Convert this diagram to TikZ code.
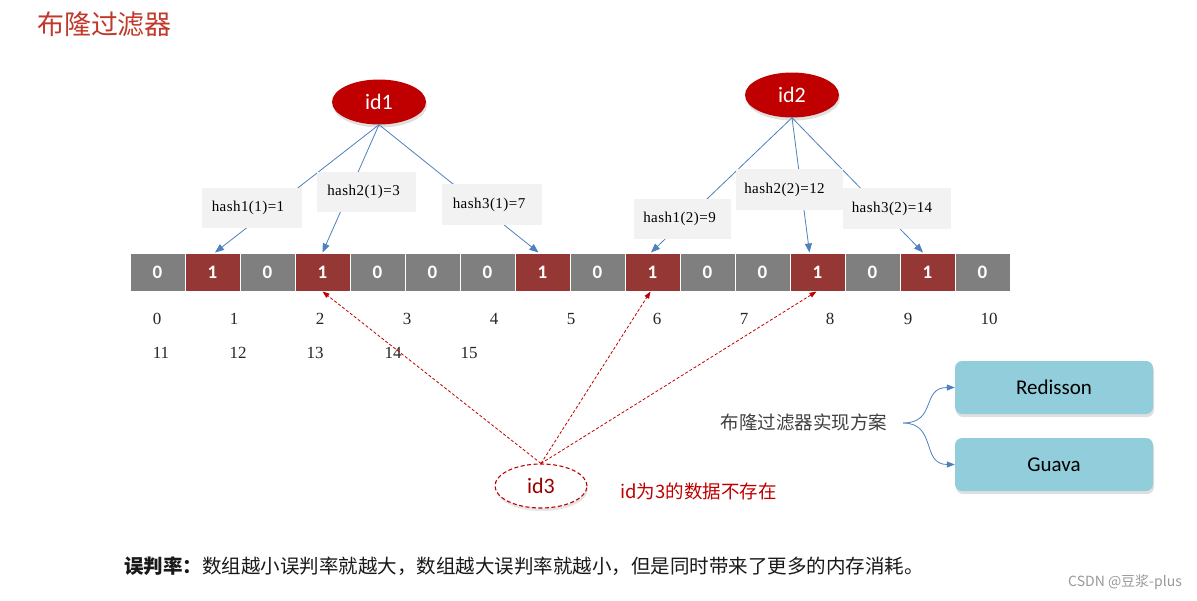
\documentclass[tikz,border=0pt]{standalone}
\usepackage{fontspec}
\setmainfont{Liberation Serif}
\newfontfamily\cjk{Noto Sans CJK SC}
\newfontfamily\carl{Carlito}
\newfontfamily\hashfont[LetterSpace=3]{Liberation Serif}
\usetikzlibrary{shapes.geometric,arrows.meta,shadows}
\newcommand\myfs[1]{\fontsize{#1}{#1}\selectfont}
\definecolor{cellgray}{HTML}{7F7F7F}
\definecolor{cellred}{HTML}{953735}
\definecolor{idred}{HTML}{C00000}
\definecolor{hashbg}{HTML}{F2F2F2}
\definecolor{lineblue}{HTML}{4F81BD}
\definecolor{boxblue}{HTML}{92CDDC}
\definecolor{titlered}{HTML}{C0392B}
\definecolor{plantext}{HTML}{404040}
\tikzset{
  cell/.style={draw=white, line width=1pt, minimum width=55pt, minimum height=38pt, inner sep=0pt, text=white, font=\carl\bfseries\myfs{19}},
  idnode/.style={ellipse, fill=idred, text=white, minimum width=94pt, minimum height=45pt, inner sep=0pt, font=\carl\myfs{22},
     drop shadow={shadow xshift=1pt, shadow yshift=-3pt, opacity=0.25}},
  hashbox/.style={fill=hashbg, inner sep=0pt, font=\hashfont\myfs{15}},
  conn/.style={draw=lineblue, line width=0.8pt, -{Triangle[length=9pt,width=7pt]}},
  miss/.style={draw=idred, line width=0.8pt, dash pattern=on 3pt off 2pt, -{Triangle[length=7pt,width=5pt]}},
  idx/.style={font=\myfs{17}, text=black!85},
  implbox/.style={rounded corners=7pt, fill=boxblue, minimum width=198pt, minimum height=53pt, font=\carl\myfs{21},
     drop shadow={shadow xshift=1pt, shadow yshift=-3pt, opacity=0.25}},
  curvearrow/.style={draw=lineblue, line width=0.8pt, -{Triangle[length=8pt,width=6pt]}}
}
\begin{document}
\begin{tikzpicture}[x=1pt,y=-1pt]
\useasboundingbox[fill=white] (0,0) rectangle (1197,600);

% title
\node[font=\cjk\myfs{27}, text=titlered] (title) at (104.5,24) {布隆过滤器};

% bit array
\foreach \v [count=\i from 0] in {0,1,0,1,0,0,0,1,0,1,0,0,1,0,1,0} {
  \ifnum\v=1 \def\cf{cellred}\else\def\cf{cellgray}\fi
  \node[cell, fill=\cf] (c\i) at ({157.5+55*\i},272) {\v};
}

% index labels
\node[idx] (i0) at (157,319) {0};
\node[idx] (i1) at (234,319) {1};
\node[idx] (i2) at (320,319) {2};
\node[idx] (i3) at (407,319) {3};
\node[idx] (i4) at (494,319) {4};
\node[idx] (i5) at (571,319) {5};
\node[idx] (i6) at (657,319) {6};
\node[idx] (i7) at (744,319) {7};
\node[idx] (i8) at (830,319) {8};
\node[idx] (i9) at (908,319) {9};
\node[idx] (i10) at (989,319) {10};
\node[idx] (i11) at (161,353) {11};
\node[idx] (i12) at (238,353) {12};
\node[idx] (i13) at (315,353) {13};
\node[idx] (i14) at (393,353) {14};
\node[idx] (i15) at (469,353) {15};

% id nodes
\node[idnode] (id1) at (379,102) {id1};
\node[idnode] (id2) at (792,95) {id2};

% connectors (behind hash boxes)
\draw[conn] (id1.south) -- ([xshift=2.5pt]c1.north);
\draw[conn] (id1.south) -- (c3.north);
\draw[conn] (id1.south) -- ([xshift=-4pt]c7.north);
\draw[conn] (id2.south) -- ([xshift=-1.5pt]c9.north);
\draw[conn] (id2.south) -- ([xshift=-8pt]c12.north);
\draw[conn] (id2.south) -- ([xshift=-4.5pt]c14.north);

% hash boxes
\node[hashbox, minimum width=100pt, minimum height=40pt] (h11) at (252,208) {\hspace*{-8pt}hash1(1)=1};
\node[hashbox, minimum width=99pt, minimum height=40pt] (h21) at (366.5,192) {\hspace*{-6pt}hash2(1)=3};
\node[hashbox, minimum width=100pt, minimum height=41pt] (h31) at (492,204.5) {\hspace*{-6pt}hash3(1)=7};
\node[hashbox, minimum width=97pt, minimum height=40pt] (h12) at (682.5,219) {\hspace*{-6pt}hash1(2)=9};
\node[hashbox, minimum width=107pt, minimum height=41pt] (h22) at (789.5,189.5) {\hspace*{-10pt}hash2(2)=12};
\node[hashbox, minimum width=108pt, minimum height=41pt] (h32) at (897,208.5) {\hspace*{-10pt}hash3(2)=14};

% id3
\node[ellipse, draw=idred, line width=1.1pt, dash pattern=on 4pt off 2.5pt, fill=white, minimum width=92pt, minimum height=44pt,
      inner sep=0pt, text=idred!80!black, font=\carl\myfs{22},
      drop shadow={shadow xshift=1pt, shadow yshift=-3pt, opacity=0.2}] (id3) at (541,486) {id3};
\draw[miss] (id3.north) -- (c3.south);
\draw[miss] (id3.north) -- ([xshift=-2pt]c9.south);
\draw[miss] (id3.north) -- ([xshift=-1pt]c12.south);
\node[font=\cjk\myfs{18.5}, text=idred, anchor=west, inner sep=0pt] (absent) at (620,491) {id为3的数据不存在};

% implementations
\node[font=\cjk\myfs{18.5}, text=plantext, inner sep=0pt] (plan) at (804,422) {布隆过滤器实现方案};
\coordinate (fork) at (903,423);
\node[implbox] (redisson) at (1054,387.5) {Redisson};
\node[implbox] (guava) at (1054,464.5) {Guava};
\draw[curvearrow] (fork) .. controls (937,423) and (921,387.5) .. (redisson.west);
\draw[curvearrow] (fork) .. controls (937,423) and (921,464.5) .. (guava.west);

% bottom note
\node[font=\cjk\myfs{19.5}, anchor=west, inner sep=0pt, text=black!90] (note) at (124,566) {\textbf{误判率：}数组越小误判率就越大，数组越大误判率就越小，但是同时带来了更多的内存消耗。};

% watermark
\node[font=\cjk\myfs{14}, text=black!40, anchor=east, inner sep=0pt] (wm) at (1182,582) {CSDN @豆浆-plus};
\end{tikzpicture}
\end{document}
